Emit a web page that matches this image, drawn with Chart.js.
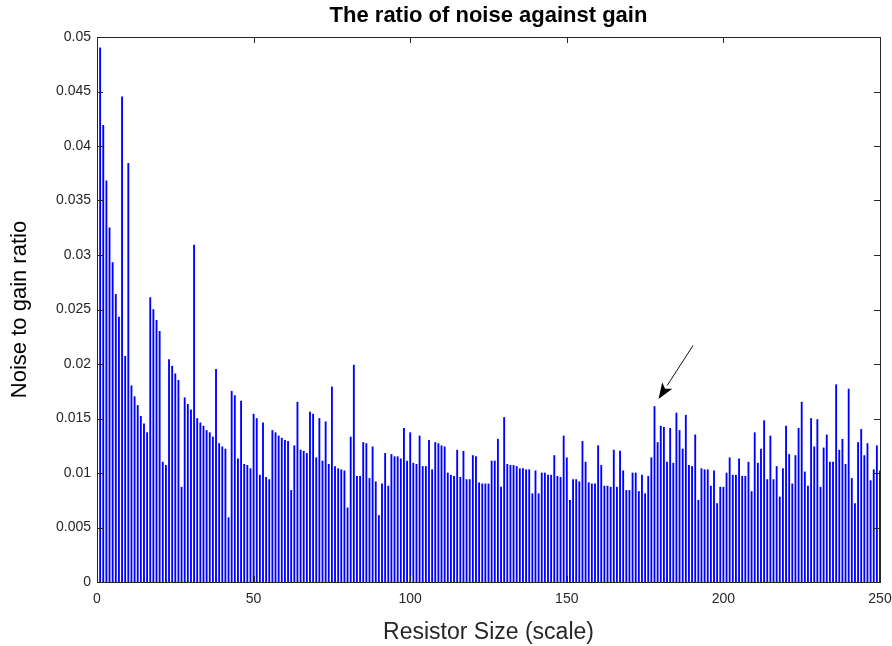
<!DOCTYPE html>
<html>
<head>
<meta charset="utf-8">
<script src="https://cdn.jsdelivr.net/npm/chart.js@4.4.0/dist/chart.umd.min.js"></script>
<style>
body{margin:0;background:#fff;}
#wrap{width:892px;height:646px;}
</style>
</head>
<body>
<div id="wrap"><canvas id="noiseChart" width="892" height="646"></canvas></div>
<script>
var chartTitle = 'The ratio of noise against gain'
var xTitle = 'Resistor Size (scale)'
var yTitle = 'Noise to gain ratio'

// resistor sizes 1..250
var resistorSizes = Array.from({length:250}, function(_, i){ return i + 1 })

var noiseRatio = [
    0.0490,0.0419,0.0368,0.0325,0.0293,0.0264,0.0243,0.0445,0.0207,0.0384,
    0.0180,0.0170,0.0162,0.0152,0.0145,0.0137,0.0261,0.0250,0.0240,0.0230,
    0.0110,0.0107,0.0204,0.0198,0.0191,0.0185,0.0087,0.0169,0.0163,0.0158,
    0.0309,0.0150,0.0146,0.0143,0.0139,0.0137,0.0133,0.0195,0.0127,0.0124,
    0.0122,0.0059,0.0175,0.0171,0.0113,0.0166,0.0108,0.0107,0.0104,0.0154,
    0.0150,0.0098,0.0146,0.0096,0.0094,0.0139,0.0137,0.0134,0.0132,0.0130,
    0.0129,0.0084,0.0125,0.0165,0.0121,0.0120,0.0118,0.0156,0.0154,0.0114,
    0.0150,0.0111,0.0147,0.0108,0.0179,0.0106,0.0104,0.0103,0.0102,0.0068,
    0.0133,0.0199,0.0097,0.0097,0.0128,0.0127,0.0095,0.0124,0.0092,0.0061,
    0.0090,0.0118,0.0088,0.0117,0.0115,0.0115,0.0113,0.0141,0.0111,0.0137,
    0.0109,0.0108,0.0134,0.0106,0.0106,0.0130,0.0103,0.0128,0.0127,0.0125,
    0.0124,0.0100,0.0098,0.0097,0.0121,0.0096,0.0120,0.0094,0.0094,0.0116,
    0.0115,0.0091,0.0090,0.0090,0.0090,0.0111,0.0111,0.0131,0.0087,0.0151,
    0.0108,0.0107,0.0107,0.0106,0.0104,0.0104,0.0103,0.0103,0.0081,0.0102,
    0.0081,0.0100,0.0100,0.0098,0.0098,0.0116,0.0097,0.0096,0.0134,0.0114,
    0.0075,0.0094,0.0094,0.0092,0.0129,0.0110,0.0091,0.0090,0.0090,0.0125,
    0.0107,0.0088,0.0088,0.0087,0.0121,0.0087,0.0120,0.0102,0.0084,0.0084,
    0.0100,0.0100,0.0083,0.0098,0.0081,0.0097,0.0114,0.0161,0.0128,0.0143,
    0.0142,0.0110,0.0141,0.0109,0.0155,0.0139,0.0122,0.0153,0.0107,0.0106,
    0.0135,0.0075,0.0104,0.0103,0.0103,0.0088,0.0102,0.0072,0.0087,0.0087,
    0.0100,0.0114,0.0098,0.0098,0.0113,0.0097,0.0097,0.0110,0.0083,0.0137,
    0.0109,0.0122,0.0148,0.0094,0.0134,0.0094,0.0106,0.0078,0.0104,0.0143,
    0.0117,0.0090,0.0116,0.0141,0.0165,0.0101,0.0088,0.0150,0.0124,0.0149,
    0.0087,0.0123,0.0135,0.0110,0.0110,0.0181,0.0121,0.0131,0.0108,0.0177,
    0.0095,0.0072,0.0128,0.0140,0.0116,0.0127,0.0093,0.0103,0.0125,0.0102
]

var xTicks = [0,50,100,150,200,250]
var yTicks = [0,0.005,0.01,0.015,0.02,0.025,0.03,0.035,0.04,0.045,0.05]

// arrow pointing at the peak near 178
var arrowFrom = {x:190.3, y:0.0217}
var arrowTo = {x:179.3, y:0.0168}

var axisColor = '#262626'
var fontFamily = '"Liberation Sans", Arial, Helvetica, sans-serif'

var points = resistorSizes.map(function(s, i){ return {x:s, y:noiseRatio[i]} })

var matlabBox = {
    id:'matlabBox',
    afterDraw:function(chart){
        var ctx = chart.ctx
        var a = chart.chartArea
        var xs = chart.scales.x
        var ys = chart.scales.y
        ctx.save()
        ctx.strokeStyle = axisColor
        ctx.lineWidth = 1
        ctx.beginPath()
        ctx.rect(Math.round(a.left)+0.5, Math.round(a.top)+0.5, Math.round(a.right-a.left), Math.round(a.bottom-a.top))
        var t = 6
        yTicks.forEach(function(v){
            var py = Math.round(ys.getPixelForValue(v))+0.5
            ctx.moveTo(a.left, py); ctx.lineTo(a.left+t, py)
            ctx.moveTo(a.right, py); ctx.lineTo(a.right-t, py)
        })
        xTicks.forEach(function(v){
            var px = Math.round(xs.getPixelForValue(v))+0.5
            ctx.moveTo(px, a.bottom); ctx.lineTo(px, a.bottom-t)
            ctx.moveTo(px, a.top); ctx.lineTo(px, a.top+t)
        })
        ctx.stroke()

        // arrow
        var x1 = xs.getPixelForValue(arrowFrom.x), y1 = ys.getPixelForValue(arrowFrom.y)
        var x2 = xs.getPixelForValue(arrowTo.x), y2 = ys.getPixelForValue(arrowTo.y)
        var ang = Math.atan2(y2-y1, x2-x1)
        var hl = 16, hw = 6
        var bx = x2 - hl*Math.cos(ang), by = y2 - hl*Math.sin(ang)
        ctx.strokeStyle = '#111'
        ctx.beginPath()
        ctx.moveTo(x1, y1); ctx.lineTo(bx, by)
        ctx.stroke()
        ctx.fillStyle = '#000'
        ctx.beginPath()
        ctx.moveTo(x2, y2)
        ctx.lineTo(bx + hw*Math.sin(ang), by - hw*Math.cos(ang))
        ctx.lineTo(bx + 4*Math.cos(ang), by + 4*Math.sin(ang))
        ctx.lineTo(bx - hw*Math.sin(ang), by + hw*Math.cos(ang))
        ctx.closePath()
        ctx.fill()

        // title
        ctx.fillStyle = '#000'
        ctx.font = 'bold 22px ' + fontFamily
        ctx.textAlign = 'center'
        ctx.textBaseline = 'middle'
        ctx.fillText(chartTitle, (a.left+a.right)/2, 16)
        ctx.restore()
    }
}

var noiseChart = new Chart(document.getElementById('noiseChart'), {
    type:'bar',
    data:{
        datasets:[{
            label:'Noise to gain ratio',
            data:points,
            backgroundColor:'#0000ff',
            borderWidth:0,
            barThickness:1.2
        }]
    },
    options:{
        responsive:false,
        animation:false,
        layout:{padding:{top:37, right:12, left:0, bottom:0}},
        plugins:{
            legend:{display:false},
            tooltip:{enabled:false}
        },
        scales:{
            x:{
                type:'linear',
                min:0, max:250,
                offset:false,
                afterFit:function(s){ s.height = 64; s.paddingLeft = 0; s.paddingRight = 0 },
                afterBuildTicks:function(s){ s.ticks = xTicks.map(function(v){ return {value:v} }) },
                grid:{display:false, drawTicks:false},
                border:{display:true, color:axisColor},
                ticks:{padding:9, color:axisColor, font:{family:fontFamily, size:14}, maxRotation:0},
                title:{display:true, text:xTitle, color:'#262626', font:{family:fontFamily, size:23}, padding:{top:0, bottom:0}}
            },
            y:{
                min:0, max:0.05,
                afterFit:function(s){ s.width = 97; s.paddingTop = 0; s.paddingBottom = 0 },
                afterBuildTicks:function(s){ s.ticks = yTicks.map(function(v){ return {value:v} }) },
                grid:{display:false, drawTicks:false},
                border:{display:true, color:axisColor},
                ticks:{
                    padding:6, color:axisColor, font:{family:fontFamily, size:14},
                    callback:function(v){ return String(+Number(v).toFixed(3)) }
                },
                title:{display:true, text:yTitle, color:'#000', font:{family:fontFamily, size:22}, padding:{top:7, bottom:0}}
            }
        }
    },
    plugins:[matlabBox]
})
</script>
</body>
</html>
